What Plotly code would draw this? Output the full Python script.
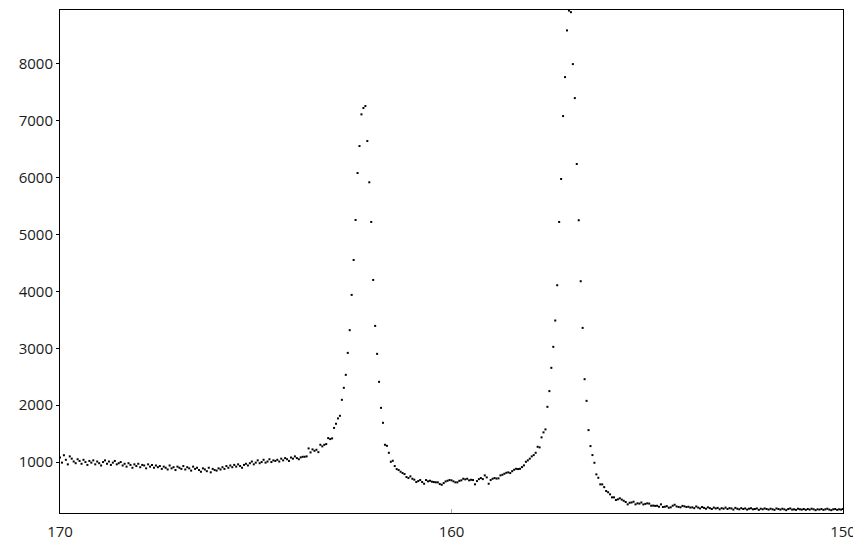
import plotly.graph_objects as go

# Chemical shift grid (ppm), reversed axis from 170 to 150
x_start = 170.0
x_step = 0.05

# Intensity values, in segments from left (170 ppm) to right (150 ppm)
baseline_left = [1080, 990, 1120, 1040, 960, 1100, 1060, 1010, 980, 1050, 1020,
                 970, 1040, 1000, 950, 1020, 990, 1030, 960, 1010, 980, 940, 1000, 1030, 970, 1010, 950, 990, 1020, 960, 980,
                 1000, 940, 970, 920, 980, 950, 900, 960, 930, 970, 910, 950, 940, 890, 960, 920, 950, 900, 940, 910,
                 930, 880, 920, 900, 870, 940, 890, 910, 860, 920, 900, 880, 930, 870, 910, 890, 850, 920, 880, 900,
                 860, 830, 890, 870, 840, 900, 820, 880, 860, 850, 890, 870, 910, 880, 930,
                 900, 940, 910, 950, 920, 960, 930, 900, 950, 970, 940, 980, 1010, 960, 990, 1030, 980, 1000, 1040, 990, 1010, 1050, 1000, 1030, 1020,
                 1040, 1010, 1060, 1030, 1070, 1050, 1020, 1080, 1060, 1100, 1070, 1050, 1083, 1093, 1093,
                 1100, 1240, 1170, 1223, 1198, 1216, 1175, 1304, 1276, 1304]
peak_one = [1316, 1421, 1404, 1416, 1600, 1673, 1767, 1813, 2094, 2305, 2533, 2919, 3318, 3938, 4552,
            5255, 6080, 6554, 7111, 7222, 7257, 6642, 5917, 5220, 4201, 3393, 2902, 2410, 1953, 1690,
            1304, 1286, 1163, 1005, 1023, 930, 877, 860]
valley = [830, 807, 789, 737, 719, 749, 707, 690, 649, 666,
          684, 649, 619, 684, 661, 672, 655, 649, 644, 644,
          614, 601, 631, 660, 672, 684, 679, 661, 644, 644,
          670, 679, 707, 696, 707, 679, 689, 684, 609, 666,
          700, 719, 701, 766, 731, 619, 684, 707, 719, 710,
          714, 766, 777, 795, 812, 819, 807, 840, 865, 882,
          877, 882, 912]
peak_two = [942, 1005, 1030, 1060, 1100, 1123, 1163, 1269, 1258, 1434, 1522, 1574, 1971, 2247, 2656,
            3025, 3488, 4108, 5220, 5975, 7081, 7766, 8586, 8935, 8907, 7994, 7397, 6238, 5250, 4178,
            3358, 2457, 2076, 1562, 1281, 1123, 988, 784, 724]
tail = [608, 608, 560, 491, 470, 433, 380, 380, 333, 345,
        363, 340, 320, 298, 257, 285, 290, 303, 257, 275,
        270, 290, 255, 265, 275, 270, 233, 235, 230, 232,
        215, 257, 210, 215, 225, 198, 205, 233, 250, 220,
        212, 205, 230, 222, 210, 215, 200]
baseline_right = [205, 190, 220, 200, 185, 210, 195, 180, 205, 190, 175, 200, 185, 195, 170, 190, 180, 200,
                  175, 190, 185, 165, 195, 180, 170, 190, 175, 185, 165, 180, 190, 170, 175, 185, 160, 180, 170, 185,
                  175, 165, 180, 170, 160, 185, 175, 165, 180, 170, 155, 175, 185, 165, 170, 160, 180, 170, 165, 175,
                  160, 175, 165, 180, 170, 155, 170, 165, 175, 160, 170, 180, 165, 155, 170, 175, 160, 170, 165, 175]

y = baseline_left + peak_one + valley + peak_two + tail + baseline_right
x = [x_start - x_step * i for i in range(len(y))]

x_ticks = [170, 160, 150]
y_ticks = [1000, 2000, 3000, 4000, 5000, 6000, 7000, 8000]

fig = go.Figure(go.Scatter(
    x=x, y=y, mode="markers",
    marker=dict(symbol="square", size=2, color="black", line=dict(width=0)),
    hoverinfo="skip", cliponaxis=False,
))

fig.update_layout(
    width=853, height=540,
    margin=dict(l=60, r=10, t=10, b=27, autoexpand=False),
    paper_bgcolor="white", plot_bgcolor="white",
    showlegend=False,
    font=dict(family="Open Sans, Noto Sans, sans-serif", size=15, color="#1a1a1a"),
)
fig.update_xaxes(
    range=[170, 150], tickvals=x_ticks, ticktext=[str(t) for t in x_ticks],
    showgrid=False, zeroline=False, showline=True, linecolor="black", linewidth=1, mirror=True,
    ticks="inside", ticklen=4, tickcolor="#aaaaaa", ticklabelstandoff=5, automargin=False,
    ticklabeloverflow="allow",
)
fig.update_yaxes(
    range=[105, 8945], tickvals=y_ticks, ticktext=[str(t) for t in y_ticks],
    showgrid=False, zeroline=False, showline=True, linecolor="black", linewidth=1, mirror=True,
    ticks="outside", ticklen=3, tickcolor="black", automargin=False,
)

fig.write_html("out.html", config={"displayModeBar": False, "staticPlot": True},
               post_script="document.body.style.margin='0';document.body.style.overflow='hidden';")
